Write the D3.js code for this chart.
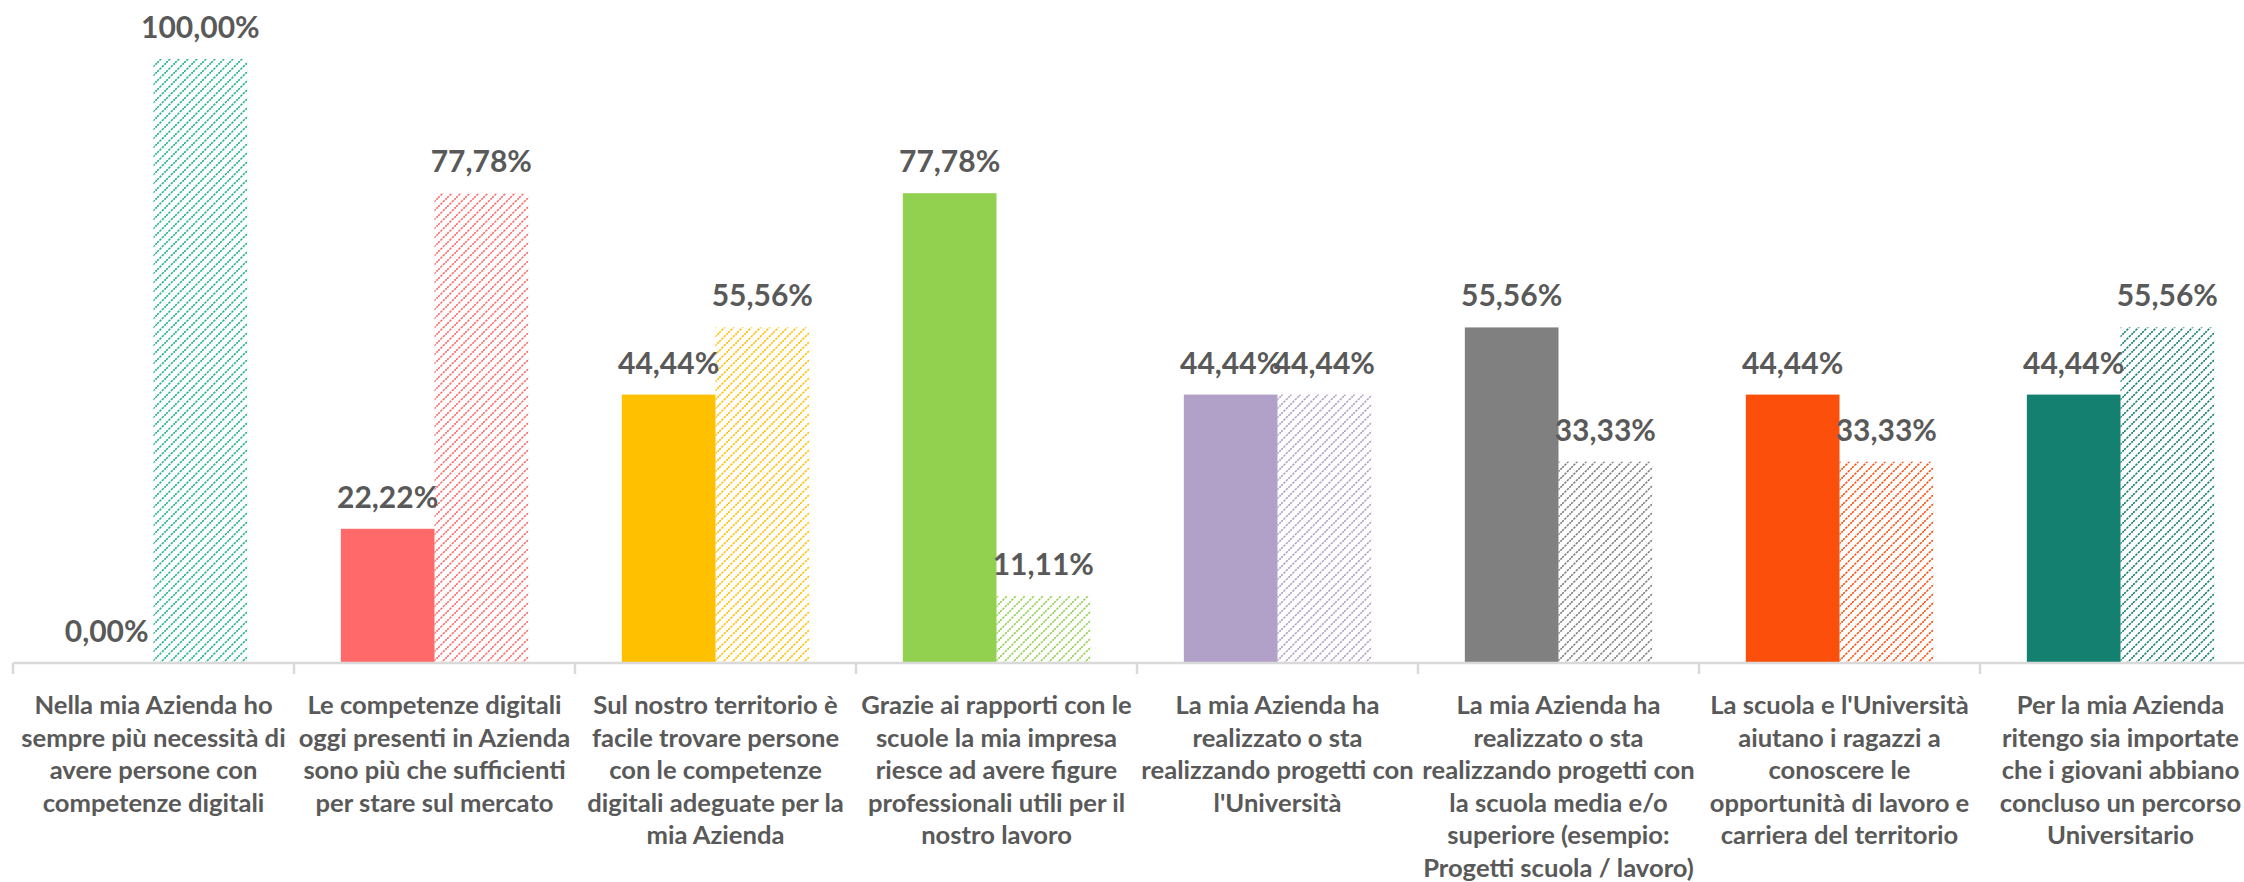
<!DOCTYPE html>
<html>
<head>
<meta charset="utf-8">
<style>
    body { margin: 0; background: #fff; }
    svg { display: block; font-family: Lato, 'Open Sans', sans-serif; }
    .value-label { font-size: 30px; font-weight: 700; fill: #595959; text-anchor: middle; }
    .cat-label { font-size: 25.6px; font-weight: 700; fill: #595959; text-anchor: middle; }
    .axis .domain, .axis line { stroke: #d9d9d9; stroke-width: 2.5px; }
</style>
</head>
<body>
<svg width="2244" height="882"></svg>
<script src="https://d3js.org/d3.v7.min.js"></script>
<script>
    // categories (as wrapped in the original)
    let categories = [
        ["Nella mia Azienda ho", "sempre più necessità di", "avere persone con", "competenze digitali"],
        ["Le competenze digitali", "oggi presenti in Azienda", "sono più che sufficienti", "per stare sul mercato"],
        ["Sul nostro territorio è", "facile trovare persone", "con le competenze", "digitali adeguate per la", "mia Azienda"],
        ["Grazie ai rapporti con le", "scuole la mia impresa", "riesce ad avere figure", "professionali utili per il", "nostro lavoro"],
        ["La mia Azienda ha", "realizzato o sta", "realizzando progetti con", "l'Università"],
        ["La mia Azienda ha", "realizzato o sta", "realizzando progetti con", "la scuola media e/o", "superiore (esempio:", "Progetti scuola / lavoro)"],
        ["La scuola e l'Università", "aiutano i ragazzi a", "conoscere le", "opportunità di lavoro e", "carriera del territorio"],
        ["Per la mia Azienda", "ritengo sia importate", "che i giovani abbiano", "concluso un percorso", "Universitario"]
    ];

    let solidValues = [0, 22.22, 44.44, 77.78, 44.44, 55.56, 44.44, 44.44];
    let hatchValues = [100, 77.78, 55.56, 11.11, 44.44, 33.33, 33.33, 55.56];

    let catColors = ["#1db38e", "#ff6969", "#ffc000", "#92d050", "#b1a0c7", "#808080", "#fc4f0b", "#138070"];

    let svg = d3.select("svg");
    let margin = { top: 59, left: 13 };
    let axisY = 663;
    let band = 281;

    let ids = d3.range(categories.length);

    let x = d3.scaleBand()
        .domain(ids)
        .range([margin.left, margin.left + band * ids.length])
        .paddingInner(0)
        .paddingOuter(0);

    // two bars per group, gap width 100%
    let xs = d3.scaleBand()
        .domain(["solid", "hatch"])
        .range([0, x.bandwidth()])
        .paddingOuter(0.5)
        .paddingInner(0);

    let y = d3.scaleLinear()
        .domain([0, 100])
        .range([axisY, margin.top]);

    // hatch patterns
    let defs = svg.append("defs");
    catColors.forEach((c, i) => {
        let p = defs.append("pattern")
            .attr("id", "hatch" + i)
            .attr("patternUnits", "userSpaceOnUse")
            .attr("width", 9)
            .attr("height", 9);
        p.append("path")
            .attr("d", "M-2,2 l4,-4 M0,9 l9,-9 M7,11 l4,-4")
            .attr("stroke", c)
            .attr("stroke-width", 1.6)
            .attr("stroke-dasharray", "2.5 1");
    });

    let groups = svg.append("g")
        .selectAll("g")
        .data(ids)
        .join("g")
        .attr("transform", d => `translate(${x(d)},0)`);

    groups.append("rect")
        .attr("x", xs("solid"))
        .attr("width", xs.bandwidth())
        .attr("y", d => y(solidValues[d]))
        .attr("height", d => axisY - y(solidValues[d]))
        .attr("fill", d => catColors[d]);

    groups.append("rect")
        .attr("x", xs("hatch"))
        .attr("width", xs.bandwidth())
        .attr("y", d => y(hatchValues[d]))
        .attr("height", d => axisY - y(hatchValues[d]))
        .attr("fill", d => `url(#hatch${d})`);

    let fmt = v => v.toFixed(2).replace(".", ",") + "%";

    groups.append("text")
        .attr("class", "value-label")
        .attr("x", xs("solid") + xs.bandwidth() / 2)
        .attr("y", d => y(solidValues[d]) - 21)
        .text(d => fmt(solidValues[d]));

    groups.append("text")
        .attr("class", "value-label")
        .attr("x", xs("hatch") + xs.bandwidth() / 2)
        .attr("y", d => y(hatchValues[d]) - 21)
        .text(d => fmt(hatchValues[d]));

    // category axis with ticks at boundaries
    let edges = d3.range(categories.length + 1).map(i => margin.left + i * band);
    let axis = svg.append("g").attr("class", "axis");
    axis.append("line")
        .attr("class", "domain")
        .attr("x1", margin.left)
        .attr("x2", 2244)
        .attr("y1", axisY)
        .attr("y2", axisY);
    axis.selectAll("line.tick")
        .data(edges)
        .join("line")
        .attr("class", "tick")
        .attr("x1", d => d)
        .attr("x2", d => d)
        .attr("y1", axisY)
        .attr("y2", axisY + 11);

    groups.append("text")
        .attr("class", "cat-label")
        .attr("x", x.bandwidth() / 2)
        .attr("y", axisY + 51)
        .selectAll("tspan")
        .data(d => categories[d])
        .join("tspan")
        .attr("x", x.bandwidth() / 2)
        .attr("dy", (d, i) => i === 0 ? 0 : 32.6)
        .text(d => d);
</script>
</body>
</html>
